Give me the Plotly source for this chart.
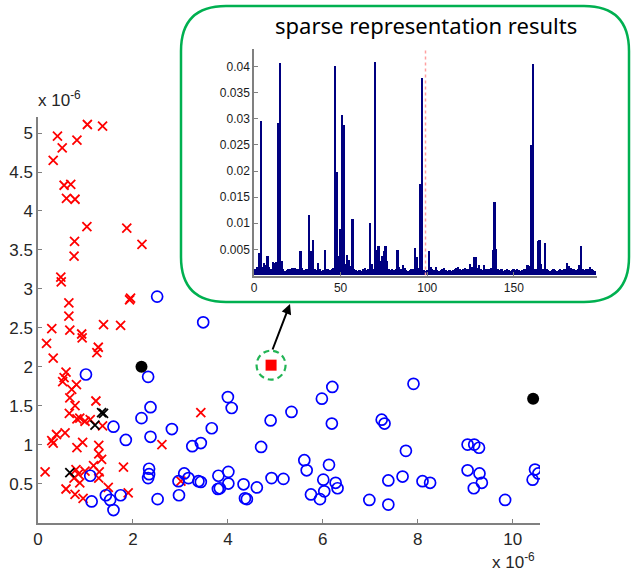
import plotly.graph_objects as go

# ---------------- data ----------------
red_x = [1.04,1.36,0.41,0.82,0.51,0.32,0.55,0.69,0.60,0.78,1.03,1.87,2.19,0.77,0.76,0.48,0.49,0.65,0.65,1.93,1.95,
         0.29,0.67,1.38,1.74,0.18,0.32,0.92,0.93,1.27,1.24,0.59,0.55,0.52,0.81,0.71,0.78,0.67,0.66,0.82,0.88,0.99,
         1.22,1.10,1.36,0.57,0.39,0.29,0.32,0.82,0.94,1.28,1.28,1.34,2.61,0.15,0.80,0.85,0.99,1.17,1.29,1.28,0.76,
         0.88,1.80,0.59,0.78,0.95,1.48,1.90,3.01,3.43]
red_y = [5.11,5.09,4.96,4.91,4.81,4.65,4.33,4.34,4.16,4.15,3.80,3.78,3.57,3.61,3.42,3.15,3.09,2.82,2.65,2.86,2.88,
         2.49,2.47,2.54,2.53,2.30,2.11,2.42,2.37,2.25,2.18,1.93,1.86,1.81,1.77,1.71,1.50,1.60,1.40,1.33,1.34,1.30,
         1.56,1.32,1.24,1.15,1.13,1.05,1.02,0.96,1.03,0.99,0.88,0.81,1.00,0.65,0.68,0.62,0.66,0.73,0.65,0.57,0.57,
         0.51,0.71,0.43,0.36,0.31,0.45,0.38,0.53,1.41]

black_x_x = [1.34,1.38,1.20,0.67]
black_x_y = [1.41,1.40,1.25,0.64]

black_dot_x = [2.18,10.43]
black_dot_y = [2.00,1.59]

query_x = [4.91]
query_y = [2.02]

blue_x = [1.01,2.32,2.37,2.18,1.59,1.85,2.37,2.82,3.25,1.10,2.34,2.34,2.32,2.52,2.96,3.08,3.17,2.97,1.13,1.43,
          1.52,1.59,1.74,2.51,3.48,4.00,4.08,3.66,3.43,4.70,4.90,5.34,5.98,6.20,6.19,5.61,5.66,6.13,6.01,6.27,
          6.31,6.03,5.75,5.94,7.24,7.30,7.75,7.68,7.38,6.98,7.38,4.92,5.17,4.61,4.33,4.36,4.40,4.01,4.01,3.80,
          3.79,3.83,3.38,3.43,7.91,8.10,8.26,9.05,9.19,9.29,9.05,9.30,9.35,9.18,9.84,10.47,10.54,10.42]
blue_y = [1.90,1.87,1.48,1.34,1.23,1.06,1.10,1.20,0.98,0.60,0.69,0.62,0.57,0.30,0.53,0.63,0.57,0.35,0.27,0.35,
          0.29,0.16,0.35,2.90,2.57,1.61,1.47,1.21,1.02,0.97,1.31,1.42,1.59,1.74,1.27,0.80,0.67,0.74,0.55,0.51,
          0.44,0.40,0.36,0.30,1.32,1.27,0.92,0.59,0.54,0.29,0.23,0.57,0.56,0.45,0.49,0.31,0.30,0.65,0.50,0.60,
          0.43,0.44,0.53,0.52,1.78,0.53,0.51,1.00,1.00,0.96,0.67,0.63,0.51,0.44,0.29,0.68,0.63,0.55]

coef = [0.0012,0.0015,0.0042,0.0296,0.0016,0.0024,0.0020,0.0036,0.0016,0.0012,
        0.0025,0.0024,0.0025,0.0291,0.0406,0.0028,0.0011,0.0009,0.0010,0.0011,
        0.0012,0.0014,0.0013,0.0014,0.0011,0.0012,0.0046,0.0014,0.0010,0.0011,
        0.0012,0.0115,0.0047,0.0067,0.0012,0.0010,0.0024,0.0011,0.0009,0.0010,
        0.0048,0.0012,0.0011,0.0010,0.0012,0.0014,0.0401,0.0198,0.0036,0.0088,
        0.0306,0.0287,0.0022,0.0039,0.0030,0.0018,0.0107,0.0012,0.0010,0.0009,
        0.0010,0.0009,0.0011,0.0014,0.0010,0.0011,0.0100,0.0022,0.0012,0.0408,
        0.0048,0.0056,0.0027,0.0037,0.0047,0.0055,0.0028,0.0012,0.0010,0.0011,
        0.0010,0.0012,0.0049,0.0016,0.0011,0.0019,0.0013,0.0010,0.0009,0.0010,
        0.0011,0.0012,0.0052,0.0034,0.0013,0.0175,0.0378,0.0010,0.0009,0.0010,
        0.0046,0.0016,0.0011,0.0010,0.0016,0.0010,0.0009,0.0010,0.0011,0.0013,
        0.0010,0.0009,0.0010,0.0009,0.0010,0.0011,0.0014,0.0016,0.0012,0.0010,
        0.0011,0.0013,0.0011,0.0012,0.0022,0.0016,0.0034,0.0034,0.0013,0.0019,
        0.0011,0.0010,0.0019,0.0012,0.0011,0.0012,0.0014,0.0049,0.0140,0.0050,
        0.0011,0.0010,0.0011,0.0009,0.0010,0.0011,0.0010,0.0009,0.0010,0.0011,
        0.0010,0.0011,0.0010,0.0009,0.0010,0.0011,0.0012,0.0019,0.0018,0.0250,
        0.0405,0.0012,0.0011,0.0066,0.0068,0.0022,0.0012,0.0061,0.0011,0.0010,
        0.0009,0.0010,0.0011,0.0010,0.0009,0.0010,0.0011,0.0010,0.0011,0.0012,
        0.0023,0.0018,0.0014,0.0012,0.0011,0.0010,0.0012,0.0019,0.0056,0.0011,
        0.0010,0.0011,0.0012,0.0015,0.0011,0.0010,0.0009]
coef_idx = list(range(1, len(coef) + 1))
selected_atom = 99

main_xticks = [0, 2, 4, 6, 8, 10]
main_yticks = [0.5, 1, 1.5, 2, 2.5, 3, 3.5, 4, 4.5, 5]
main_yticklabels = ["0.5", "1", "1.5", "2", "2.5", "3", "3.5", "4", "4.5", "5"]
inset_xticks = [0, 50, 100, 150]
inset_yticks = [0.005, 0.01, 0.015, 0.02, 0.025, 0.03, 0.035, 0.04]
inset_yticklabels = ["0.005", "0.01", "0.015", "0.02", "0.025", "0.03", "0.035", "0.04"]
inset_title = "sparse representation results"

# ---------------- layout helpers ----------------
W, H = 632, 577
def px(x): return x / W
def py(y): return (H - y) / H

GREEN = "#00B050"
AX = "#808080"
TXT = "#262626"
FONT = "Liberation Sans, Arial, sans-serif"

fig = go.Figure()

fig.add_trace(go.Scatter(x=red_x, y=red_y, mode="markers",
    marker=dict(symbol="x-thin", size=9, line=dict(color="#ff0000", width=1.8)), showlegend=False))
fig.add_trace(go.Scatter(x=black_x_x, y=black_x_y, mode="markers",
    marker=dict(symbol="x-thin", size=9, line=dict(color="#000000", width=1.8)), showlegend=False))
fig.add_trace(go.Scatter(x=blue_x, y=blue_y, mode="markers",
    marker=dict(symbol="circle-open", size=11, color="#0000ff", line=dict(color="#0000ff", width=1.7)), showlegend=False))
fig.add_trace(go.Scatter(x=black_dot_x, y=black_dot_y, mode="markers",
    marker=dict(symbol="circle", size=12, color="#000000"), showlegend=False))
fig.add_trace(go.Scatter(x=query_x, y=query_y, mode="markers",
    marker=dict(symbol="square", size=11, color="#ff0000"), showlegend=False))

fig.add_trace(go.Bar(x=coef_idx, y=coef, xaxis="x2", yaxis="y2",
    marker=dict(color="#000080", line=dict(width=0)), showlegend=False))

axis_common = dict(showgrid=False, zeroline=False, showline=True, linecolor=AX, linewidth=1.5,
                   ticks="inside", ticklen=4, tickcolor=AX, tickwidth=1, automargin=False)

fig.update_layout(
    width=W, height=H, autosize=False,
    margin=dict(l=0, r=0, t=0, b=0, pad=0),
    paper_bgcolor="white", plot_bgcolor="rgba(0,0,0,0)",
    bargap=0,
    xaxis=dict(domain=[px(38), px(540)], range=[0, 10.575], tickvals=main_xticks,
               tickfont=dict(family=FONT, size=17, color=TXT), **axis_common),
    yaxis=dict(domain=[py(522.5), py(116.7)], range=[0, 5.21], tickvals=main_yticks, ticktext=main_yticklabels,
               tickfont=dict(family=FONT, size=17, color=TXT), **axis_common),
    xaxis2=dict(domain=[px(254), px(597)], range=[0, 198], anchor="y2", tickvals=inset_xticks,
                tickfont=dict(family=FONT, size=12, color="#1a1a1a"), **axis_common),
    yaxis2=dict(domain=[py(275.5), py(49.3)], range=[0, 0.0433], anchor="x2", tickvals=inset_yticks,
                ticktext=inset_yticklabels, tickfont=dict(family=FONT, size=12, color="#1a1a1a"), **axis_common),
)

# rounded green box around inset
L, T, R, B, rad = 181, 6, 629, 302, 45
rx, ry = rad / W, rad / H
x0, x1, y0, y1 = px(L), px(R), py(B), py(T)
path = (f"M {x0+rx},{y1} L {x1-rx},{y1} Q {x1},{y1} {x1},{y1-ry} "
        f"L {x1},{y0+ry} Q {x1},{y0} {x1-rx},{y0} L {x0+rx},{y0} Q {x0},{y0} {x0},{y0+ry} "
        f"L {x0},{y1-ry} Q {x0},{y1} {x0+rx},{y1} Z")
fig.add_shape(type="path", path=path, xref="paper", yref="paper",
              line=dict(color=GREEN, width=2.5), fillcolor="rgba(0,0,0,0)", layer="above")

# dashed circle around query point
fig.add_shape(type="circle", xref="x", yref="y", xsizemode="pixel", ysizemode="pixel",
              xanchor=query_x[0], yanchor=query_y[0], x0=-14.5, x1=14.5, y0=-14.5, y1=14.5,
              line=dict(color="#22b455", width=2.2, dash="6px,4px"))

# red dotted line in inset
fig.add_shape(type="line", xref="x2", yref="y2", x0=selected_atom, x1=selected_atom, y0=0, y1=0.0433,
              line=dict(color="#ffa0a0", width=1.5, dash="dot"))

# arrow
fig.add_annotation(x=px(290), y=py(304), xref="paper", yref="paper", ax=-18, ay=47,
                   axref="pixel", ayref="pixel", showarrow=True, arrowhead=2, arrowsize=1,
                   arrowwidth=2, arrowcolor="black", text="", standoff=0)

# exponent labels
fig.add_annotation(x=px(36), y=py(112), xref="paper", yref="paper", xanchor="left", yanchor="bottom",
                   text="x 10<sup>-6</sup>", showarrow=False, font=dict(family=FONT, size=17, color=TXT))
fig.add_annotation(x=px(490), y=py(574), xref="paper", yref="paper", xanchor="left", yanchor="bottom",
                   text="x 10<sup>-6</sup>", showarrow=False, font=dict(family=FONT, size=17, color=TXT))

# inset title
fig.add_annotation(x=px(426), y=py(25), xref="paper", yref="paper", xanchor="center", yanchor="middle",
                   text=inset_title, showarrow=False, font=dict(family="Noto Sans, sans-serif", size=22, color="#000000"))

fig.write_html("out.html", config={"displayModeBar": False},
               post_script="document.body.style.margin='0px';document.body.style.overflow='hidden';")
